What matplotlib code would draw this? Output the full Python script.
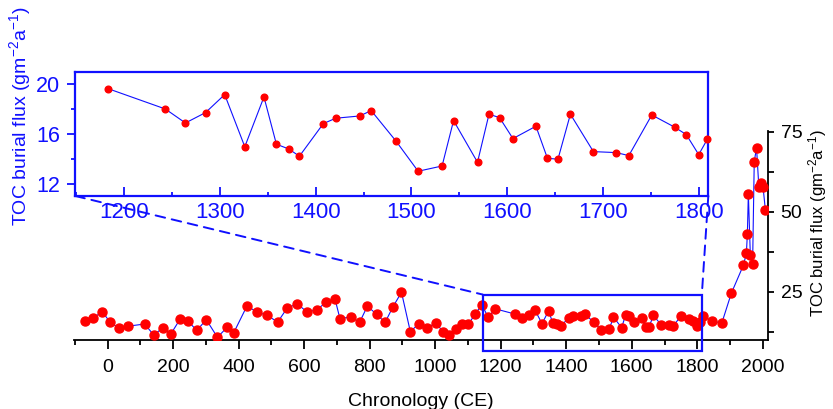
import matplotlib
matplotlib.use("Agg")
import matplotlib.pyplot as plt
import numpy as np
from matplotlib.patches import Rectangle, ConnectionPatch
from matplotlib.ticker import MultipleLocator

plt.rcParams['font.family'] = ['Liberation Sans', 'DejaVu Sans']
plt.rcParams['mathtext.fontset'] = 'custom'
plt.rcParams['mathtext.rm'] = 'Liberation Sans'
plt.rcParams['mathtext.it'] = 'Liberation Sans:italic'

# ---- data (year CE, TOC burial flux) ----
years_early = [-69, -45, -17, 8, 35, 61, 113, 140, 168, 193, 222, 245, 272, 301, 335,
               365, 385, 425, 457, 487, 519, 548, 579, 609, 639, 667, 694, 709, 743,
               769, 793, 821, 847, 871, 897, 924, 950, 976, 1001, 1024, 1042, 1063,
               1082, 1101, 1122, 1142, 1162]
flux_early = [15.8, 16.7, 18.75, 15.4, 13.6, 14.2, 14.9, 11.5, 13.6, 11.8, 16.6, 15.8,
              12.9, 16.25, 10.75, 13.9, 12.2, 20.5, 18.6, 17.6, 15.5, 19.9, 21.2, 18.6,
              19.4, 21.7, 22.7, 16.6, 17.1, 15.4, 20.5, 17.9, 15.4, 20.3, 24.8, 12.5,
              15.0, 13.6, 15.3, 12.5, 11.5, 13.4, 14.8, 14.8, 18.0, 20.9, 17.0]

years_mid = [1183, 1243, 1264, 1285, 1305, 1326, 1346, 1359, 1372, 1383, 1408, 1421,
             1446, 1458, 1484, 1507, 1532, 1544, 1569, 1581, 1592, 1606, 1630, 1642,
             1653, 1666, 1690, 1714, 1727, 1751, 1775, 1787, 1800, 1809]
flux_mid = [19.65, 18.02, 16.9, 17.73, 19.17, 15.0, 18.98, 15.2, 14.82, 14.24, 16.85,
            17.28, 17.46, 17.89, 15.44, 13.04, 13.46, 17.09, 13.76, 17.6, 17.33, 15.65,
            16.64, 14.08, 14.0, 17.6, 14.61, 14.53, 14.29, 17.54, 16.56, 15.97, 14.37, 15.6]

years_late = [1818, 1846, 1875, 1904, 1941, 1950, 1953, 1956, 1962, 1969, 1974, 1981,
              1988, 1994, 2001, 2008]
flux_late = [17.3, 15.8, 15.2, 24.5, 33.3, 37.0, 43.0, 55.6, 36.6, 33.7, 65.6, 70.0,
             57.8, 59.1, 57.6, 50.5]

years = np.array(years_early + years_mid + years_late)
flux = np.array(flux_early + flux_mid + flux_late)

main_xlim = (-102, 2016)
main_ylim = (9.9, 75.3)
inset_xlim = (1149, 1810)
inset_ylim = (11.06, 21.0)
box_x = (1145, 1814)
box_y = (6.4, 24.1)

BLUE = '#1010ff'
RED = '#ff0000'
ylabel = r'TOC burial flux (gm$^{-2}$a$^{-1}$)'

W, H = 833, 409
fig = plt.figure(figsize=(W / 100, H / 100), dpi=100)

# ---- main axes ----
ax = fig.add_axes([74.3 / W, (H - 340) / H, (768 - 74.3) / W, (340 - 130.7) / H])
ax.plot(years, flux, '-', color=BLUE, lw=0.8, zorder=2)
ax.plot(years, flux, 'o', color=RED, ms=6.5, mec=RED, zorder=3)
ax.set_xlim(main_xlim)
ax.set_ylim(main_ylim)
for s in ['top', 'left']:
    ax.spines[s].set_visible(False)
for s in ['bottom', 'right']:
    ax.spines[s].set_linewidth(1.3)
ax.yaxis.tick_right()
ax.yaxis.set_label_position('right')
ax.xaxis.set_major_locator(MultipleLocator(200))
ax.xaxis.set_minor_locator(MultipleLocator(100))
ax.yaxis.set_major_locator(MultipleLocator(25))
ax.yaxis.set_minor_locator(MultipleLocator(12.5))
ax.tick_params(axis='x', which='major', length=6.5, width=1.3, direction='out',
               labelsize=14, pad=7)
ax.tick_params(axis='x', which='minor', length=3.5, width=1.3, direction='out')
ax.tick_params(axis='y', which='both', length=4, width=1.3, direction='out',
               labelsize=14, pad=5)
ax.set_xlabel('Chronology (CE)', fontsize=14, labelpad=12.5)
ax.set_ylabel(ylabel, fontsize=12, rotation=90)
ax.yaxis.set_label_coords(1.055, 0.56)

rect = Rectangle((box_x[0], box_y[0]), box_x[1] - box_x[0], box_y[1] - box_y[0],
                 fill=False, edgecolor=BLUE, lw=1.6, clip_on=False, zorder=4)
ax.add_patch(rect)

# ---- inset axes ----
ax2 = fig.add_axes([75.3 / W, (H - 196) / H, (708.3 - 75.3) / W, (196 - 71.7) / H])
mask = (years >= 1170) & (years <= 1812)
ax2.plot(years[mask], flux[mask], '-', color=BLUE, lw=0.8, zorder=2)
ax2.plot(years[mask], flux[mask], 'o', color=RED, ms=4.8, mec=RED, zorder=3,
         clip_on=False)
ax2.set_xlim(inset_xlim)
ax2.set_ylim(inset_ylim)
for s in ax2.spines.values():
    s.set_color(BLUE)
    s.set_linewidth(1.6)
ax2.xaxis.set_major_locator(MultipleLocator(100))
ax2.xaxis.set_minor_locator(MultipleLocator(50))
ax2.yaxis.set_major_locator(MultipleLocator(4))
ax2.yaxis.set_minor_locator(MultipleLocator(2))
ax2.tick_params(axis='x', which='major', length=6.5, width=1.3, direction='in',
                colors=BLUE, labelsize=16, pad=4)
ax2.tick_params(axis='x', which='minor', length=3, width=1.3, direction='in',
                colors=BLUE)
ax2.tick_params(axis='y', which='major', length=6, width=1.3, direction='out',
                colors=BLUE, labelsize=15.5, pad=5)
ax2.tick_params(axis='y', which='minor', length=3, width=1.3, direction='out',
                colors=BLUE)
ax2.set_ylabel(ylabel, fontsize=14, color=BLUE)
ax2.yaxis.set_label_coords(-0.067, 0.64)

# ---- dashed connectors ----
for xa, xb in [(0, box_x[0]), (1, box_x[1])]:
    con = ConnectionPatch(xyA=(xa, 0), coordsA=ax2.transAxes,
                          xyB=(xb, box_y[1]), coordsB=ax.transData,
                          color=BLUE, lw=1.4, linestyle=(0, (5, 3.5)), zorder=1)
    fig.add_artist(con)

fig.savefig('out.png', dpi=100)
